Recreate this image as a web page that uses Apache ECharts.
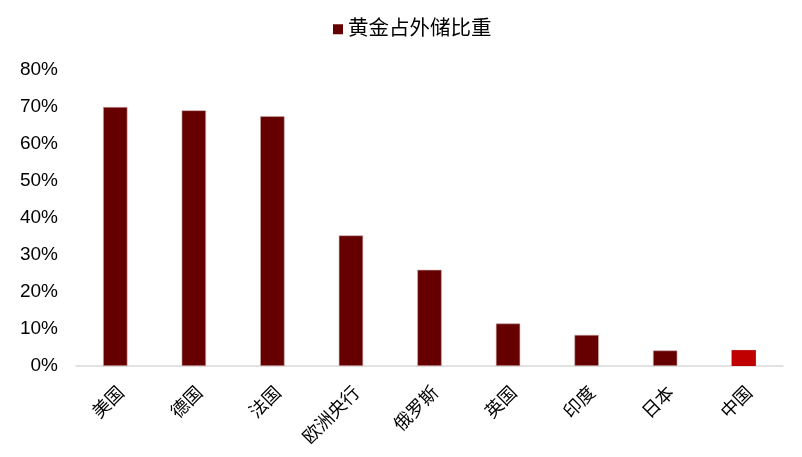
<!DOCTYPE html>
<html>
<head>
<meta charset="utf-8"/>
<title>黄金占外储比重</title>
<style>
	* { margin: 0; padding: 0; }
	html, body { background: #fff; }
	#chart { width: 802px; height: 457px; }
</style>
</head>
<body>
<div id="chart"></div>
<script src="https://cdn.jsdelivr.net/npm/echarts@6/dist/echarts.min.js"></script>
<script>
	// 数据
	const seriesName = '黄金占外储比重';
	const categories = ['美国', '德国', '法国', '欧洲央行', '俄罗斯', '英国', '印度', '日本', '中国'];
	const goldShare = [70.0, 69.1, 67.5, 35.3, 26.0, 11.5, 8.4, 4.2, 4.3];
	const highlight = '中国';

	const font = '"Liberation Sans", Arial, "Noto Sans CJK SC", sans-serif';

	let chart = echarts.init(document.getElementById('chart'), null, { renderer: 'canvas' });
	let option = {
		animation: false,
		textStyle: { fontFamily: font },
		legend: {
			top: 14,
			left: 328,
			itemWidth: 10,
			itemHeight: 10,
			itemGap: 6,
			itemStyle: { borderWidth: 0 },
			textStyle: { fontSize: 20.5, color: '#000', fontFamily: font },
			data: [{ name: seriesName, icon: 'rect' }]
		},
		grid: { left: 76, right: 19, top: 70, bottom: 91, containLabel: false },
		xAxis: {
			type: 'category',
			data: categories,
			axisLine: { lineStyle: { color: '#d9d9d9', width: 1.5 } },
			axisTick: { show: false },
			axisLabel: {
				rotate: 45,
				interval: 0,
				margin: 18,
				verticalAlign: 'top',
				fontSize: 18,
				color: '#000',
				fontFamily: font
			}
		},
		yAxis: {
			type: 'value',
			min: 0,
			max: 80,
			interval: 10,
			splitLine: { show: false },
			axisLine: { show: false },
			axisTick: { show: false },
			axisLabel: {
				formatter: '{value}%',
				fontSize: 19,
				color: '#000',
				margin: 18,
				fontFamily: font
			}
		},
		series: [{
			name: seriesName,
			type: 'bar',
			barWidth: '31%',
			itemStyle: { color: '#660000', borderColor: '#c9a9a9', borderWidth: 0.6 },
			data: goldShare.map((v, i) => categories[i] === highlight
				? { value: v, itemStyle: { color: '#c00000', borderWidth: 0 } }
				: v)
		}]
	};
	chart.setOption(option, true);
</script>
</body>
</html>
